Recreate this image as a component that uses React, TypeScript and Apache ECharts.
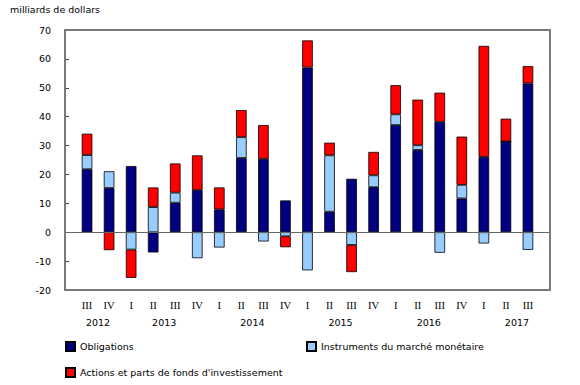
import React, { useEffect, useRef } from "react";
import * as echarts from "echarts";

const quarters = ["III", "IV", "I", "II", "III", "IV", "I", "II", "III", "IV", "I", "II", "III", "IV", "I", "II", "III", "IV", "I", "II", "III"];
const yearLabels = ["", "2012", "", "", "2013", "", "", "", "2014", "", "", "", "2015", "", "", "", "2016", "", "", "", "2017", ""];

const obligations = [21.8, 15.3, 22.9, -7.0, 10.2, 14.6, 7.9, 25.7, 25.4, 11.0, 57.0, 7.1, 18.5, 15.6, 37.1, 28.5, 38.2, 11.7, 26.1, 31.4, 51.5];
const instruments = [4.9, 5.8, -6.0, 8.7, 3.5, -9.0, -5.3, 7.2, -3.2, -1.4, -13.2, 19.5, -4.4, 4.1, 3.7, 1.6, -7.1, 4.7, -3.9, 0, -6.1];
const actions = [7.4, -6.2, -9.8, 6.8, 10.1, 12.0, 7.6, 9.4, 11.7, -3.8, 9.4, 4.4, -9.4, 8.1, 10.1, 15.8, 10.1, 16.7, 38.4, 7.9, 6.0];

const Y_MIN = -20;
const Y_MAX = 70;

const seriesNames = ["Obligations", "Instruments du marché monétaire", "Actions et parts de fonds d'investissement"];
const seriesColors = ["#000080", "#99ccff", "#ff0000"];

const FONT = "DejaVu Sans";
const GRID = { left: 65, top: 30, width: 485, height: 260 };

export default function App() {
  const ref = useRef<HTMLDivElement>(null);
  useEffect(() => {
    if (!ref.current) return;
    const chart = echarts.init(ref.current, null, { renderer: "svg" });
    const pad = (arr: number[]) => [null, ...arr, null];
    const values = [obligations, instruments, actions];
    const series: any[] = values.map((v, i) => ({
      name: seriesNames[i],
      type: "bar",
      stack: "total",
      xAxisIndex: 0,
      yAxisIndex: 0,
      barWidth: 10.6,
      data: pad(v),
      itemStyle: { color: seriesColors[i], borderColor: "#000", borderWidth: 0.8 },
      ...(i === 0
        ? {
            markLine: {
              silent: true,
              symbol: "none",
              label: { show: false },
              lineStyle: { color: "#666", width: 1, type: "solid" },
              data: [{ yAxis: 0 }],
            },
          }
        : {}),
    }));
    const legendBase = {
      itemWidth: 9,
      itemHeight: 9,
      padding: 0,
      icon: "rect",
      textStyle: { fontFamily: FONT, fontSize: 9.5, color: "#000" },
    };
    chart.setOption({
      animation: false,
      title: {
        text: "milliards de dollars",
        left: 10,
        top: 4,
        padding: 0,
        textStyle: { fontFamily: FONT, fontSize: 9.5, fontWeight: "normal", color: "#000" },
      },
      legend: [
        { ...legendBase, data: [seriesNames[0]], left: 65, top: 341 },
        { ...legendBase, data: [seriesNames[1]], left: 306, top: 341 },
        { ...legendBase, data: [seriesNames[2]], left: 65, top: 367 },
      ],
      graphic: [
        {
          type: "rect",
          silent: true,
          z: 100,
          shape: { x: GRID.left, y: GRID.top, width: GRID.width, height: GRID.height },
          style: { fill: "none", stroke: "#7a7a7a", lineWidth: 2 },
        },
      ],
      grid: {
        left: GRID.left,
        top: GRID.top,
        width: GRID.width,
        height: GRID.height,
      },
      xAxis: [
        {
          type: "category",
          data: ["", ...quarters, ""],
          boundaryGap: false,
          position: "bottom",
          axisLine: { show: false, onZero: false },
          axisTick: { show: false },
          axisLabel: { interval: 0, margin: 10, fontFamily: "Liberation Serif", fontSize: 10.5, color: "#000" },
          splitLine: { show: false },
        },
        {
          type: "category",
          data: yearLabels,
          boundaryGap: true,
          position: "bottom",
          axisLine: { show: false, onZero: false },
          axisTick: { show: false },
          axisLabel: { interval: 0, margin: 27, fontFamily: FONT, fontSize: 9.5, color: "#000" },
          splitLine: { show: false },
        },
      ],
      yAxis: [
        {
          type: "value",
          min: Y_MIN,
          max: Y_MAX,
          interval: 10,
          position: "left",
          axisLine: { show: false },
          axisTick: { show: true, inside: true, length: 4, lineStyle: { color: "#444", width: 1 } },
          splitLine: { show: false },
          axisLabel: { margin: 14, fontFamily: FONT, fontSize: 9.5, color: "#000" },
        },
      ],
      series,
    });
    return () => chart.dispose();
  }, []);
  return <div ref={ref} style={{ position: "absolute", left: 0, top: 0, width: 580, height: 385 }} />;
}
